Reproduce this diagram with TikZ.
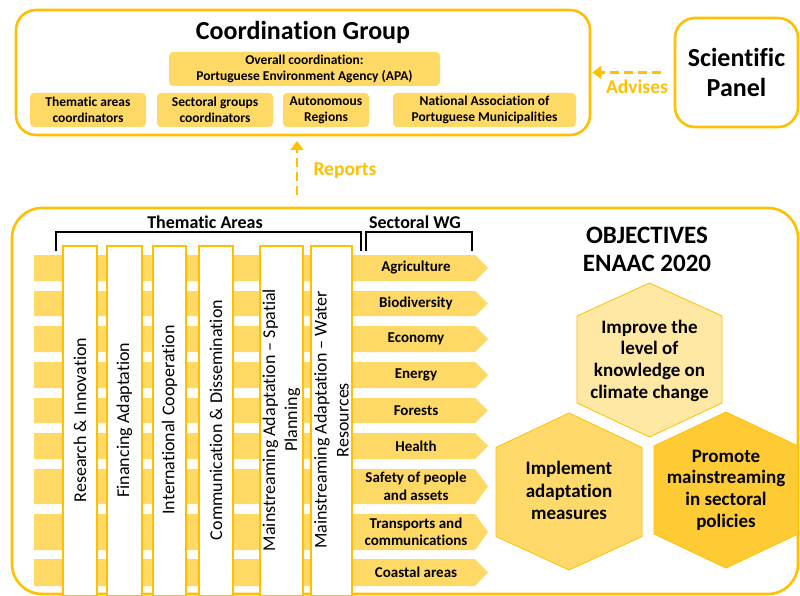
\documentclass[tikz,border=0pt]{standalone}
\usepackage{fontspec}
\setmainfont{Carlito}[Ligatures={NoCommon,NoRare}]
\usetikzlibrary{arrows.meta}
\definecolor{gold}{HTML}{FFC000}
\definecolor{band}{HTML}{FFD966}
\definecolor{hexA}{HTML}{FFE8A3}
\definecolor{hexB}{HTML}{FFDA6A}
\definecolor{hexC}{HTML}{FFCB35}
\begin{document}
\begin{tikzpicture}[x=1pt,y=-1pt,
  outerbox/.style={draw=gold, line width=2.6pt, rounded corners=20pt, fill=white, inner sep=0pt},
  cbox/.style={fill=band, rounded corners=4pt, align=center, inner sep=0pt,
    font=\bfseries\fontsize{13.5}{16}\selectfont},
  dashlink/.style={draw=gold, line width=2.6pt, dash pattern=on 9pt off 5pt,
    -{Triangle[length=9pt,width=13pt]}},
  linklabel/.style={text=gold, font=\bfseries\fontsize{19.5}{22}\selectfont},
  bandlabel/.style={align=center, font=\bfseries\fontsize{15}{17.5}\selectfont},
  bar/.style={draw=gold, line width=1.2pt, fill=white},
  bartext/.style={rotate=90, align=center, font=\fontsize{18}{22}\selectfont},
  bracket/.style={draw=black, line width=2pt},
  header/.style={font=\bfseries\fontsize{18}{20}\selectfont},
  hexline/.style={draw=gold, line width=0.8pt},
  hextext/.style={align=center, font=\bfseries\fontsize{19}{21.7}\selectfont}
]
\useasboundingbox (0,0) rectangle (800,596);

% Coordination group
\node[outerbox, minimum width=574pt, minimum height=125pt] (cg) at (303,72.5) {};
\node[font=\bfseries\fontsize{26}{30}\selectfont] (cgt) at (303,32) {Coordination Group};
\node[cbox, minimum width=271pt, minimum height=34pt] (apa) at (304.5,69) {Overall coordination:\\Portuguese Environment Agency (APA)};
\node[cbox, minimum width=116pt, minimum height=34pt] (tac) at (88,110) {Thematic areas\\coordinators};
\node[cbox, minimum width=116pt, minimum height=34pt] (sgc) at (215,110) {Sectoral groups\\coordinators};
\node[cbox, minimum width=86pt, minimum height=34pt] (ar) at (326,110) {Autonomous\\Regions};
\node[cbox, minimum width=183pt, minimum height=34pt] (nam) at (484.5,110) {National Association of\\Portuguese Municipalities};

% Scientific panel
\node[outerbox, minimum width=123pt, minimum height=109pt, align=center,
  font=\bfseries\fontsize{26}{30}\selectfont] (sp) at (736.5,72.5) {Scientific\\Panel};
\draw[dashlink, shorten <=13pt, shorten >=1pt] (sp.west) -- (cg.east);
\node[linklabel] (adv) at (637,87) {Advises};

% Big box
\node[outerbox, rounded corners=30pt, minimum width=786pt, minimum height=386pt] (bb) at (405,401) {};
\coordinate (rs) at (297,195);
\coordinate (re) at (297,141);
\draw[dashlink] (rs) -- (re);
\node[linklabel] (rep) at (345,171) {Reports};

% Brackets
\node[header] (tah) at (205,222) {Thematic Areas};
\node[header] (swh) at (415,222) {Sectoral WG};
\draw[bracket] (56,251) -- (56,232) -- (361,232) -- (361,251);
\draw[bracket] (366,251) -- (366,232) -- (472,232) -- (472,251);

% Bands with sectoral arrows
\foreach \t/\b/\lab [count=\i] in {255/281/Agriculture, 291/316/Biodiversity, 326/352/Economy,
  362/388/Energy, 398/423/Forests, 433/459/Health, 469/504/{Safety of people\\and assets},
  514/550/{Transports and\\communications}, 559/586/Coastal areas}{
  \fill[band] (34,\t) -- (475,\t) -- (488,{(\t+\b)/2}) -- (475,\b) -- (34,\b) -- cycle;
  \node[bandlabel] (s\i) at (416,{(\t+\b)/2}) {\lab};
}

% Thematic bars
\foreach \xa/\xb/\lab [count=\i] in {63/97/{Research \& Innovation}, 107/142/Financing Adaptation,
  153/186/International Cooperation, 199/233/{Communication \& Dissemination},
  260/303/{Mainstreaming Adaptation – Spatial\\Planning},
  311/352/{Mainstreaming Adaptation – Water\\Resources}}{
  \draw[bar] (\xa,246) rectangle (\xb,596);
  \node[bartext] (t\i) at ({(\xa+\xb)/2},420) {\lab};
}

% Objectives
\node[align=center, font=\bfseries\fontsize{25}{28}\selectfont] (obj) at (647,249) {OBJECTIVES\\ENAAC 2020};

\begin{scope}[shift={(649.5,360)}]
  \draw[hexline, fill=hexA] (0,-77) -- (72.5,-44) -- (72.5,43) -- (0,77) -- (-72.5,43) -- (-72.5,-44) -- cycle;
  \node[hextext] (h1) at (0,0.5) {Improve the\\level of\\knowledge on\\climate change};
\end{scope}
\begin{scope}[shift={(569,491.5)}]
  \draw[hexline, fill=hexB] (0,-78.5) -- (73,-44) -- (73,45) -- (0,78.5) -- (-73,45) -- (-73,-44) -- cycle;
  \node[hextext, font=\bfseries\fontsize{19}{22.5}\selectfont] (h2) at (0,-1) {Implement\\adaptation\\measures};
\end{scope}
\begin{scope}[shift={(726,490)}]
  \draw[hexline, fill=hexC] (0,-78) -- (72,-44) -- (72,44) -- (0,78) -- (-72,44) -- (-72,-44) -- cycle;
  \node[hextext] (h3) at (0,0) {Promote\\mainstreaming\\in sectoral\\policies};
\end{scope}
\end{tikzpicture}
\end{document}
